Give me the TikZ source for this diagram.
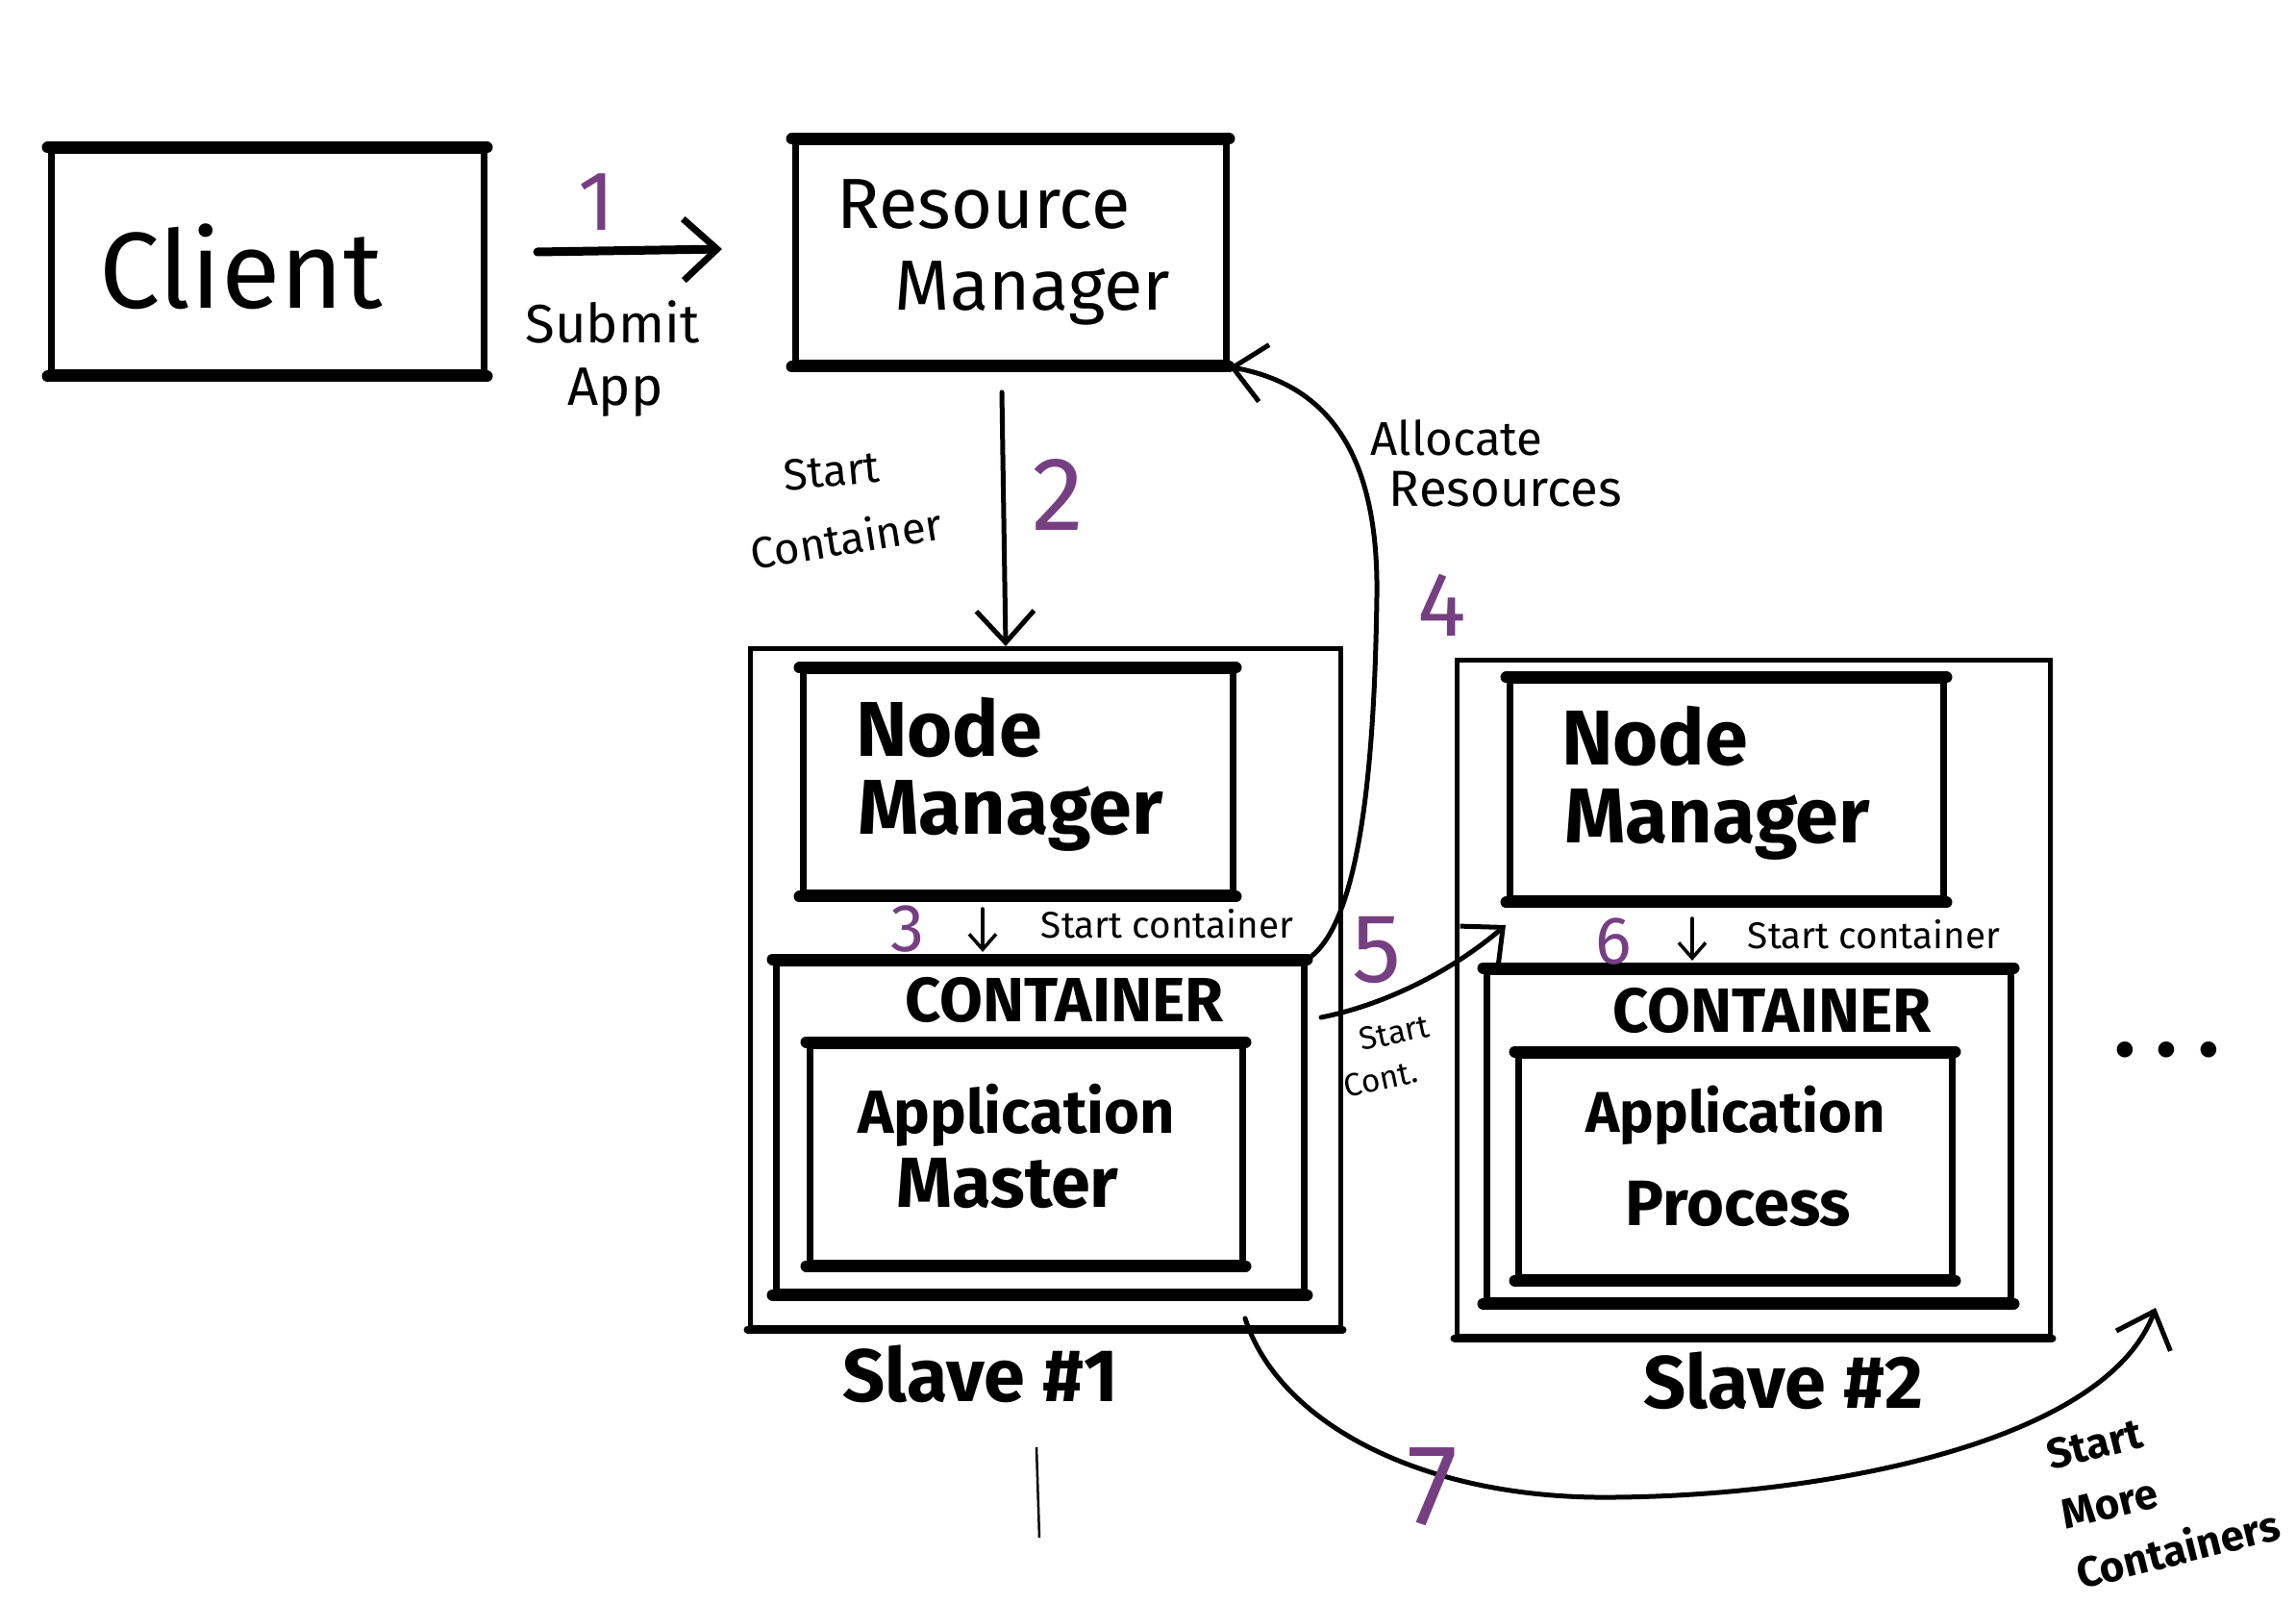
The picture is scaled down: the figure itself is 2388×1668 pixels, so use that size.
\documentclass[tikz,border=0pt]{standalone}
\usepackage{fontspec}
\setmainfont{Fira Sans}
\usetikzlibrary{arrows.meta}
\definecolor{numpurple}{RGB}{117,63,130}
\newcommand{\fs}[1]{\fontsize{#1}{#1}\selectfont}
\begin{document}
\begin{tikzpicture}[x=0.1mm,y=-0.1mm,
  box/.style={draw, line width=0.7mm, rectangle, inner sep=0pt},
  outerbox/.style={draw, line width=0.5mm, rectangle, inner sep=0pt},
  heavy/.style={line width=1.2mm, line cap=round},
  lbl/.style={inner sep=0pt},
  num/.style={inner sep=0pt, text=numpurple},
  conn/.style={line width=0.5mm, line cap=round, -{Straight Barb[length=3.3mm,width=6mm,line width=0.5mm]}},
  bigconn/.style={line width=0.9mm, line cap=round, -{Straight Barb[length=3.5mm,width=6.4mm,line width=0.7mm]}},
  tinyconn/.style={line width=0.35mm, line cap=round, -{Straight Barb[length=1.6mm,width=2.8mm,line width=0.35mm]}},
]
\useasboundingbox (0,0) rectangle (2388,1668);

% ---------- boxes ----------
\node[box, minimum width=45mm, minimum height=23.1mm] (client) at (278,272.5) {};
\node[box, minimum width=44.8mm, minimum height=23mm] (rm) at (1051,263) {};

\node[outerbox, minimum width=61.4mm, minimum height=70.5mm] (slave1) at (1087,1027.5) {};
\node[box, minimum width=44.7mm, minimum height=23.1mm] (nm1) at (1058.5,813.5) {};
\node[box, minimum width=54.9mm, minimum height=34.2mm] (c1) at (1081.5,1172) {};
\node[box, minimum width=45mm, minimum height=22.6mm] (am) at (1067,1200) {};

\node[outerbox, minimum width=61.7mm, minimum height=70.2mm] (slave2) at (1823.5,1038) {};
\node[box, minimum width=45.1mm, minimum height=22.7mm] (nm2) at (1795.5,821.5) {};
\node[box, minimum width=54.5mm, minimum height=34.2mm] (c2) at (1818.5,1181) {};
\node[box, minimum width=45.1mm, minimum height=23.1mm] (ap) at (1804.5,1212.5) {};

\foreach \b in {client,rm,nm1,c1,am,nm2,c2,ap}{
  \draw[heavy] (\b.north west) -- (\b.north east);
  \draw[heavy] (\b.south west) -- (\b.south east);
}
\foreach \b in {slave1,slave2}{
  \draw[line width=0.8mm, line cap=round] (\b.south west) -- (\b.south east);
}

% ---------- texts ----------
\node[lbl, font=\fs{32pt}] (tclient) at (251,277) {Client};
\node[lbl, font=\fs{21pt}] (trm1) at (1023,213) {Resource};
\node[lbl, font=\fs{21pt}] (trm2) at (1074,305) {Manager};

\node[lbl, font=\bfseries\fs{23pt}] (tnm1a) at (987,757) {Node};
\node[lbl, font=\bfseries\fs{23pt}] (tnm1b) at (1051,848) {Manager};
\node[lbl, font=\bfseries\fs{18.5pt}] (tc1) at (1107,1040) {CONTAINER};
\node[lbl, font=\bfseries\fs{18pt}] (tam1) at (1057,1160) {Application};
\node[lbl, font=\bfseries\fs{21pt}] (tam2) at (1048,1231) {Master};
\node[lbl, font=\bfseries\fs{22pt}] (ts1) at (1020,1429) {Slave \#1};

\node[lbl, font=\bfseries\fs{23pt}] (tnm2a) at (1721,766) {Node};
\node[lbl, font=\bfseries\fs{23pt}] (tnm2b) at (1786,857) {Manager};
\node[lbl, font=\bfseries\fs{18.5pt}] (tc2) at (1843,1051) {CONTAINER};
\node[lbl, font=\bfseries\fs{17pt}] (tap1) at (1805,1160) {Application};
\node[lbl, font=\bfseries\fs{19pt}] (tap2) at (1808,1252) {Process};
\node[lbl, font=\bfseries\fs{22pt}] (ts2) at (1855,1436) {Slave \#2};

% ---------- arrow 1 ----------
\coordinate (a1s) at (559,262);
\coordinate (a1e) at (751,259);
\draw[bigconn] (a1s) -- (a1e);
\node[num, font=\fs{25pt}] (n1) at (621,210) {1};
\node[lbl, font=\fs{16pt}] (tsub) at (637,335) {Submit};
\node[lbl, font=\fs{16pt}] (tapp) at (640,408) {App};

% ---------- arrow 2 ----------
\coordinate (a2s) at (1042,408);
\coordinate (a2e) at (1046,672);
\draw[conn] (a2s) -- (a2e);
\node[num, font=\fs{31pt}] (n2) at (1100,515) {2};
\node[lbl, font=\fs{13pt}, rotate=5] (tsc1) at (865,490) {Start};
\node[lbl, font=\fs{13pt}, rotate=9] (tsc2) at (880,559) {Container};

% ---------- arrow 3 ----------
\coordinate (a3s) at (1022,945);
\coordinate (a3e) at (1022,990);
\draw[tinyconn] (a3s) -- (a3e);
\node[num, font=\fs{20pt}] (n3) at (944,966) {3};
\node[lbl, font=\fs{11pt}] (tsc3) at (1214,961) {Start container};

% ---------- arrow 4 ----------
\draw[conn] (c1.north east) .. controls (1420,960) and (1430,760) .. (1432,620)
  .. controls (1434,470) and (1380,400) .. (rm.south east);
\node[num, font=\fs{27pt}] (n4) at (1500,629) {4};
\node[lbl, font=\fs{14pt}] (tal1) at (1515,455) {Allocate};
\node[lbl, font=\fs{15pt}] (tal2) at (1566,509) {Resources};

% ---------- arrow 5 ----------
\coordinate (a5s) at (1374,1058);
\coordinate (a5e) at (1566,962);
\draw[conn] (a5s) .. controls (1440,1045) and (1510,1010) .. (a5e);
\node[num, font=\fs{29pt}] (n5) at (1432,988) {5};
\node[lbl, font=\fs{9.5pt}, rotate=12] (tst5a) at (1450,1074) {Start};
\node[lbl, font=\fs{9.5pt}, rotate=12] (tst5b) at (1436,1122) {Cont.};

% ---------- arrow 6 ----------
\coordinate (a6s) at (1760,955);
\coordinate (a6e) at (1760,999);
\draw[tinyconn] (a6s) -- (a6e);
\node[num, font=\fs{20pt}] (n6) at (1678,979) {6};
\node[lbl, font=\fs{11pt}] (tsc6) at (1949,972) {Start container};

% ---------- arrow 7 ----------
\coordinate (a7s) at (1295,1371);
\coordinate (a7e) at (2242,1360);
\draw[conn] (a7s) .. controls (1330,1480) and (1480,1560) .. (1680,1557)
  .. controls (1900,1555) and (2190,1500) .. (a7e);
\node[num, font=\fs{34pt}] (n7) at (1490,1546) {7};
\node[lbl, font=\bfseries\fs{12.5pt}, rotate=14, align=left] (tmore) at (2250,1550) {Start\\[2mm]More\\[2mm]Containers};

% ---------- misc ----------
\node[lbl, font=\bfseries\fs{26pt}] (dots) at (2254,1092) {.\hspace{2.2mm}.\hspace{2.2mm}.};
\coordinate (st1) at (1078,1505);
\coordinate (st2) at (1081,1599);
\draw[line width=0.25mm] (st1) -- (st2);
\end{tikzpicture}
\end{document}
